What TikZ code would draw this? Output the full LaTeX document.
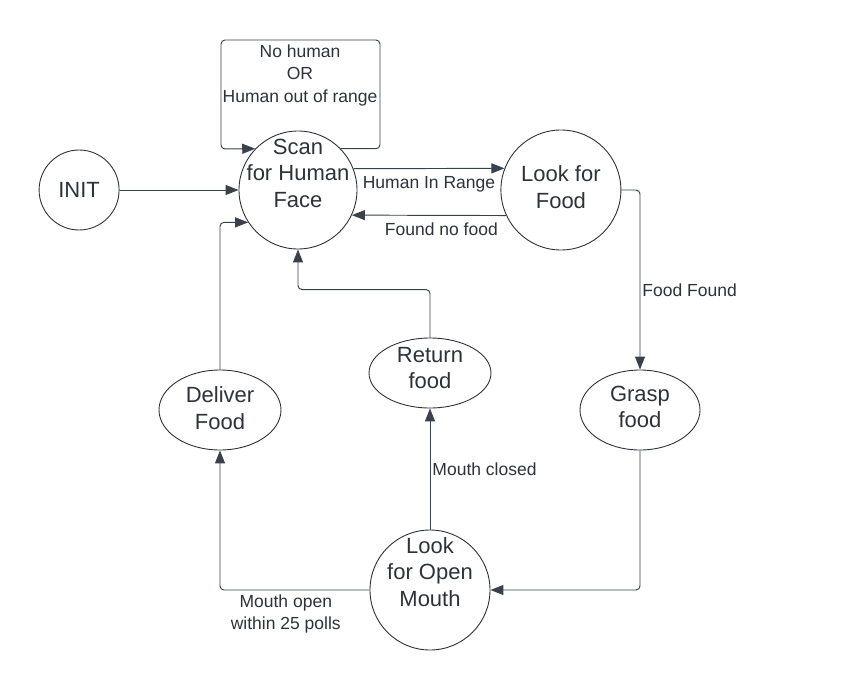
\documentclass[tikz,border=0pt]{standalone}
\usepackage{fontspec}
\setsansfont{Liberation Sans}
\RequirePackage{xcolor}
\tikzset{every picture/.style={/utils/exec={\sffamily}}}
\usetikzlibrary{arrows.meta}
\usetikzlibrary{positioning}
\usetikzlibrary{shapes.geometric}

\definecolor{edgegray}{HTML}{3A414A}
\definecolor{textgray}{HTML}{2E3238}

\tikzset{
  state/.style={draw=textgray, line width=0.9pt, circle, inner sep=0pt,
    text=textgray, align=center, font=\fontsize{22}{26.5}\selectfont},
  task/.style={state, ellipse},
  statetext/.style={text=textgray, align=center, font=\fontsize{22}{26.5}\selectfont},
  cond/.style={text=textgray, align=center, inner sep=2pt,
    font=\fontsize{17.5}{22.5}\selectfont},
  trans/.style={draw=edgegray, line width=0.95pt, rounded corners=4pt,
    -{Triangle[length=13pt,width=10pt]}}
}

\begin{document}
\begin{tikzpicture}[x=1pt, y=-1pt]
  \useasboundingbox (0,0) rectangle (851,687);

  % states
  \node[state, minimum size=118pt] (scan) at (298,190) {};
  \node[statetext] (scantxt) at ([yshift=17pt]scan.center) {Scan\\for Human\\Face};
  \node[state, minimum size=80pt, left=119pt of scan] (init) {INIT};
  \node[state, minimum size=120pt, right=143pt of scan] (look) {};
  \node[statetext] (looktxt) at ([yshift=3pt]look.center) {Look for\\Food};
  \node[task, minimum width=120pt, minimum height=80pt] (grasp) at (640,410) {};
  \node[statetext] (grasptxt) at ([yshift=3pt]grasp.center) {Grasp\\food};
  \node[state, minimum size=120pt] (mouth) at (430,590) {};
  \node[statetext] (mouthtxt) at ([yshift=18pt]mouth.center) {Look\\for Open\\Mouth};
  \node[task, minimum width=122pt, minimum height=70pt] (ret) at (430,373) {};
  \node[statetext] (rettxt) at ([yshift=5pt]ret.center) {Return\\food};
  \node[task, minimum width=122pt, minimum height=80pt] (deliver) at (220,410) {};
  \node[statetext] (delivertxt) at ([yshift=2pt]deliver.center) {Deliver\\Food};

  % transitions
  \draw[trans] (init) -- (scan);
  \draw[trans] (scan.44) -| (380,40) -| (221,149) -- (scan.136);
  \node[cond] (nohuman) at (300,75) {No human\\OR\\Human out of range};
  \draw[trans] (scan.21) -- node[cond, below=5pt] (inrange) {Human In Range} (look.159);
  \draw[trans] (look.205) -- node[cond, below=5pt, pos=0.42] (nofood) {Found no food} (scan.335);
  \draw[trans] (look.east) -| node[cond, right, pos=0.78] (found) {Food Found} (grasp.north);
  \draw[trans] (grasp.south) |- (mouth.east);
  \draw[trans] (mouth.north) -- node[cond, right] (closed) {Mouth closed} (ret.south);
  \draw[trans] (ret.north) -- ++(0,-48) -| (scan.south);
  \draw[trans] (mouth.west) -| node[cond, below=2pt, pos=0.28] (open) {Mouth open\\within 25 polls} (deliver.south);
  \draw[trans] (deliver.north) |- (scan.213);
\end{tikzpicture}
\end{document}
